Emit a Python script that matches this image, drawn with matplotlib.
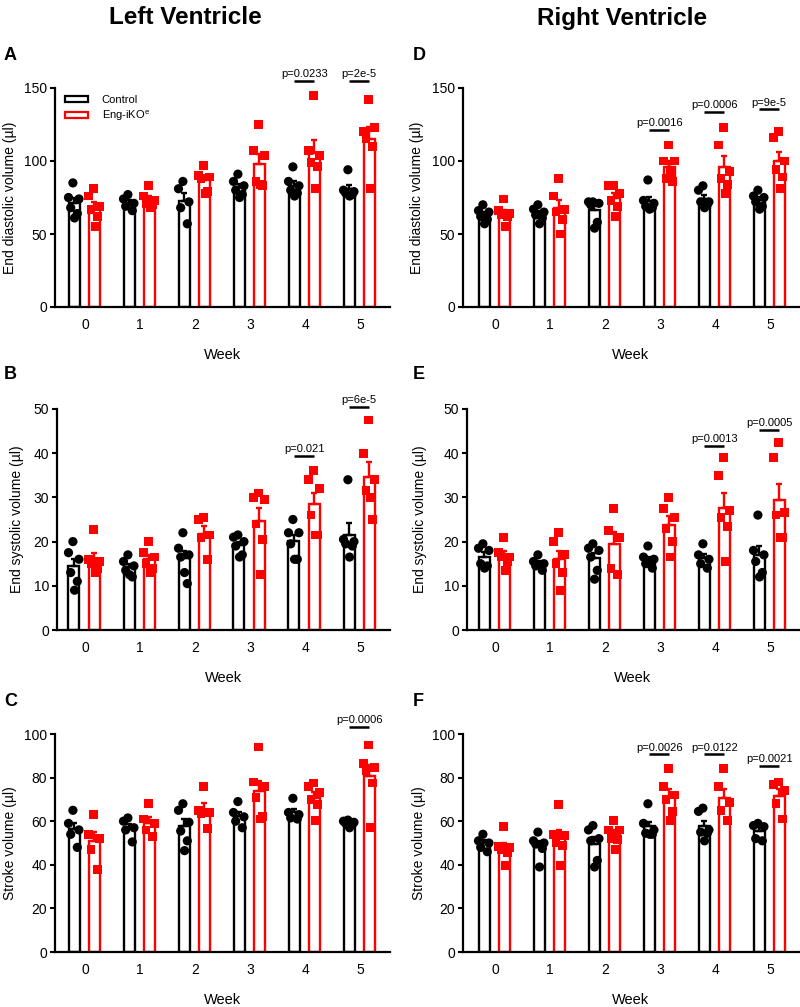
import numpy as np
import matplotlib
matplotlib.use('Agg')
import matplotlib.pyplot as plt
from matplotlib.patches import Patch

plt.rcParams['font.family'] = ['Liberation Sans', 'DejaVu Sans']
plt.rcParams['mathtext.fontset'] = 'custom'
plt.rcParams['mathtext.rm'] = 'Liberation Sans'

# ---------------- data ----------------
weeks = [0, 1, 2, 3, 4, 5]
week_labels = ['0', '1', '2', '3', '4', '5']
group_names = ['Control', r'Eng-iKO$^\mathrm{e}$']

# Left ventricle - end diastolic volume (µl)
lv_edv_ctrl = [[85, 75, 74, 68, 64, 61], [77, 74, 71, 69, 66], [86, 81, 72, 68, 57],
               [91, 86, 83, 80, 77, 75], [96, 86, 83, 80, 78, 76], [94, 80, 79, 78, 77, 76]]
lv_edv_ko = [[81, 76, 69, 67, 62, 55], [83, 76, 73, 71, 70, 68], [97, 90, 89, 88, 79, 78],
             [125, 107, 104, 86, 83, 84], [145, 107, 104, 99, 96, 81], [142, 120, 123, 115, 110, 81]]
# Left ventricle - end systolic volume (µl)
lv_esv_ctrl = [[20, 17.5, 16, 13, 11, 9], [17, 15.5, 14.5, 13.5, 12, 12.5], [22, 18.5, 17, 16.5, 10.5, 13],
               [21.5, 21, 20, 19, 17, 16.5], [25, 22, 22, 19.5, 16, 16], [34, 20.5, 20, 19.5, 19, 16.5]]
lv_esv_ko = [[22.7, 16, 15.5, 15, 14, 13], [20, 17.5, 16.5, 15, 14, 13], [25.5, 25, 21.5, 21, 16],
             [31, 30, 29.5, 24, 20.5, 12.5], [36, 34, 32, 26, 21.5, 21.5], [47.5, 40, 34, 31.5, 25, 30]]
# Left ventricle - stroke volume (µl)
lv_sv_ctrl = [[65, 59, 56, 54, 48], [61.5, 60, 57, 56, 50.5], [68, 65, 59.5, 55.5, 51, 46.5],
              [69, 64, 62, 60, 57], [70.5, 64, 63, 61.5, 61], [60.5, 60, 59.5, 59, 58.5, 57]]
lv_sv_ko = [[63, 54, 52, 47, 38], [68, 61, 59, 56, 53], [76, 65, 64, 63.5, 56.5],
            [94, 78, 76, 71, 62, 61], [77.5, 76, 73, 70, 67.5, 60.5], [95, 86.5, 84.5, 83, 77.5, 57]]
# Right ventricle - end diastolic volume (µl)
rv_edv_ctrl = [[70, 66, 65, 62, 60, 57], [70, 67, 65, 63, 61, 57], [72, 72, 71, 70, 58, 54],
               [87, 73, 71, 69, 68, 67], [83, 80, 72, 72, 70, 68], [80, 76, 75, 72, 69, 67]]
rv_edv_ko = [[74, 66, 64, 63, 62, 55], [88, 76, 67, 65, 60, 50], [83, 83, 78, 73, 69, 62],
             [111, 100, 100, 88, 86, 92], [123, 111, 93, 88, 84, 78], [120, 116, 100, 94, 89, 81]]
# Right ventricle - end systolic volume (µl)
rv_esv_ctrl = [[19.5, 18.5, 18, 15, 14.5, 14], [17, 15.5, 15, 14.5, 13.5], [19.5, 18.5, 18, 16.5, 13.5, 11.5],
               [19, 16.5, 16, 15, 14, 15], [19.5, 17, 16, 15, 14], [26, 18, 17, 15.5, 13, 12]]
rv_esv_ko = [[21, 17.5, 16.5, 16.5, 15.5, 13.5], [22, 20, 17, 15, 13, 9], [27.5, 22.5, 21, 14, 12.5],
             [30, 27.5, 25.5, 23, 20, 16.5], [39, 35, 27, 25.5, 23.5, 15.5], [42.5, 39, 26.5, 26, 21, 21]]
# Right ventricle - stroke volume (µl)
rv_sv_ctrl = [[54, 51, 50, 48, 46], [55, 51, 50, 49.5, 47.5, 39], [58, 56, 52, 51, 42, 39],
              [68, 59, 56, 54.5, 54, 54], [66, 64.5, 56, 55, 54.5, 51], [59, 58, 57.5, 52, 51]]
rv_sv_ko = [[57.5, 48.5, 48, 47, 45.5, 39.5], [67.5, 54, 53.5, 50, 49, 39.5], [60.5, 56, 56, 52, 51.5, 47],
            [84, 76, 72, 70, 64.5, 60.5], [84, 76, 68.5, 65, 60.5], [78, 77, 74, 68, 61]]

# p-values: (week, label)
p_A = [(4, 'p=0.0233'), (5, 'p=2e-5')]
p_B = [(4, 'p=0.021'), (5, 'p=6e-5')]
p_C = [(5, 'p=0.0006')]
p_D = [(3, 'p=0.0016'), (4, 'p=0.0006'), (5, 'p=9e-5')]
p_E = [(4, 'p=0.0013'), (5, 'p=0.0005')]
p_F = [(3, 'p=0.0026'), (4, 'p=0.0122'), (5, 'p=0.0021')]

# ---------------- layout / style ----------------
W, H = 800, 1007
fig = plt.figure(figsize=(W / 100, H / 100), dpi=100)
RED = '#ff0000'
BLK = '#000000'

panels = [
    # letter, ctrl, ko, ylabel, ymax, step, pvals, p-bar heights, box(l,r,t,b), letter pos, ylabel x
    ('A', lv_edv_ctrl, lv_edv_ko, 'End diastolic volume (µl)', 150, 50, p_A, [155, 155],
     (55, 390, 88, 307), (4, 55), 10),
    ('B', lv_esv_ctrl, lv_esv_ko, 'End systolic volume (µl)', 50, 10, p_B, [39.4, 50.5],
     (57, 390, 409, 630), (4, 374), 17),
    ('C', lv_sv_ctrl, lv_sv_ko, 'Stroke volume (µl)', 100, 20, p_C, [103.4],
     (55, 390, 734, 952), (4, 702), 10),
    ('D', rv_edv_ctrl, rv_edv_ko, 'End diastolic volume (µl)', 150, 50, p_D, [121.5, 133.7, 135.3],
     (463, 799, 88, 307), (413, 55), 417),
    ('E', rv_esv_ctrl, rv_esv_ko, 'End systolic volume (µl)', 50, 10, p_E, [41.7, 45.3],
     (467, 799, 409, 630), (413, 374), 420),
    ('F', rv_sv_ctrl, rv_sv_ko, 'Stroke volume (µl)', 100, 20, p_F, [90.7, 90.7, 85.5],
     (463, 799, 734, 952), (413, 702), 419),
]

PX_PER_WEEK = 55.0
TICK0_LEFT, TICK0_RIGHT = 85, 495
OFF_C, OFF_K = -0.2, 0.17
BW = 0.2
jit = [-0.02, -0.1, 0.09, -0.06, 0.06, 0.01]

for letter, ctrl, ko, ylabel, ymax, step, pvals, pys, box, lpos, ylx in panels:
    l, r, t, b = box
    ax = fig.add_axes([l / W, 1 - b / H, (r - l) / W, (b - t) / H])
    tick0 = TICK0_LEFT if l < 400 else TICK0_RIGHT
    x0 = -(tick0 - l) / PX_PER_WEEK
    x1 = x0 + (r - l) / PX_PER_WEEK
    ax.set_xlim(x0, x1)
    ax.set_ylim(0, ymax)
    x = np.array(weeks, dtype=float)
    for data, off, col, mk in [(ctrl, OFF_C, BLK, 'o'), (ko, OFF_K, RED, 's')]:
        means = np.array([np.mean(d) for d in data])
        sems = np.array([np.std(d, ddof=1) / np.sqrt(len(d)) for d in data])
        ax.bar(x + off, means, width=BW, facecolor='white', edgecolor=col,
               linewidth=1.7, zorder=2)
        ax.errorbar(x + off, means, yerr=[np.zeros_like(sems), sems], fmt='none',
                    ecolor=col, elinewidth=1.7, capsize=2.5, capthick=1.7, zorder=2.5)
        for wi, d in enumerate(data):
            xs = [x[wi] + off + jit[k % len(jit)] for k in range(len(d))]
            ax.scatter(xs, d, marker=mk, s=44 if mk == 'o' else 40, color=col,
                       edgecolors='none', zorder=3, clip_on=False)
    # p-value annotations
    for (wk, lab), py in zip(pvals, pys):
        xa, xb = wk + OFF_C, wk + OFF_K
        ax.plot([xa, xb], [py, py], color=BLK, lw=1.8, clip_on=False, zorder=4,
                solid_capstyle='butt')
        ax.annotate(lab, xy=((xa + xb) / 2, py), xytext=(0, 1.2), textcoords='offset points',
                    ha='center', va='bottom', fontsize=8, annotation_clip=False)
    # axes styling
    for s in ['top', 'right']:
        ax.spines[s].set_visible(False)
    for s in ['left', 'bottom']:
        ax.spines[s].set_linewidth(1.6)
    ax.set_yticks(np.arange(0, ymax + 0.1, step))
    ax.set_xticks(weeks)
    ax.set_xticklabels(week_labels)
    ax.tick_params(axis='y', direction='out', length=3.8, width=1.5, pad=2, labelsize=10)
    ax.tick_params(axis='x', length=0, pad=8, labelsize=10)
    ax.set_xlabel('Week', fontsize=10.5, va='center')
    ax.xaxis.set_label_coords(0.5, -48 / (b - t))
    ax.set_ylabel(ylabel, fontsize=10, va='center')
    ax.yaxis.set_label_coords((ylx - l) / (r - l), 0.5)
    fig.text(lpos[0] / W, 1 - lpos[1] / H, letter, fontsize=13, fontweight='bold',
             ha='left', va='center')
    if letter == 'A':
        handles = [Patch(facecolor='white', edgecolor=BLK, linewidth=1.6),
                   Patch(facecolor='white', edgecolor=RED, linewidth=1.6)]
        ax.legend(handles, group_names, loc='upper left', frameon=False, fontsize=8,
                  bbox_to_anchor=((65 - l) / (r - l), (b - 95) / (b - t)),
                  borderaxespad=0, borderpad=0, handlelength=2.1, handleheight=0.45,
                  handletextpad=1.2, labelspacing=0.35)

fig.text(185 / W, 1 - 18 / H, 'Left Ventricle', fontsize=17.5, fontweight='bold',
         ha='center', va='center')
fig.text(622 / W, 1 - 18 / H, 'Right Ventricle', fontsize=17.5, fontweight='bold',
         ha='center', va='center')

fig.savefig('out.png', dpi=100)
